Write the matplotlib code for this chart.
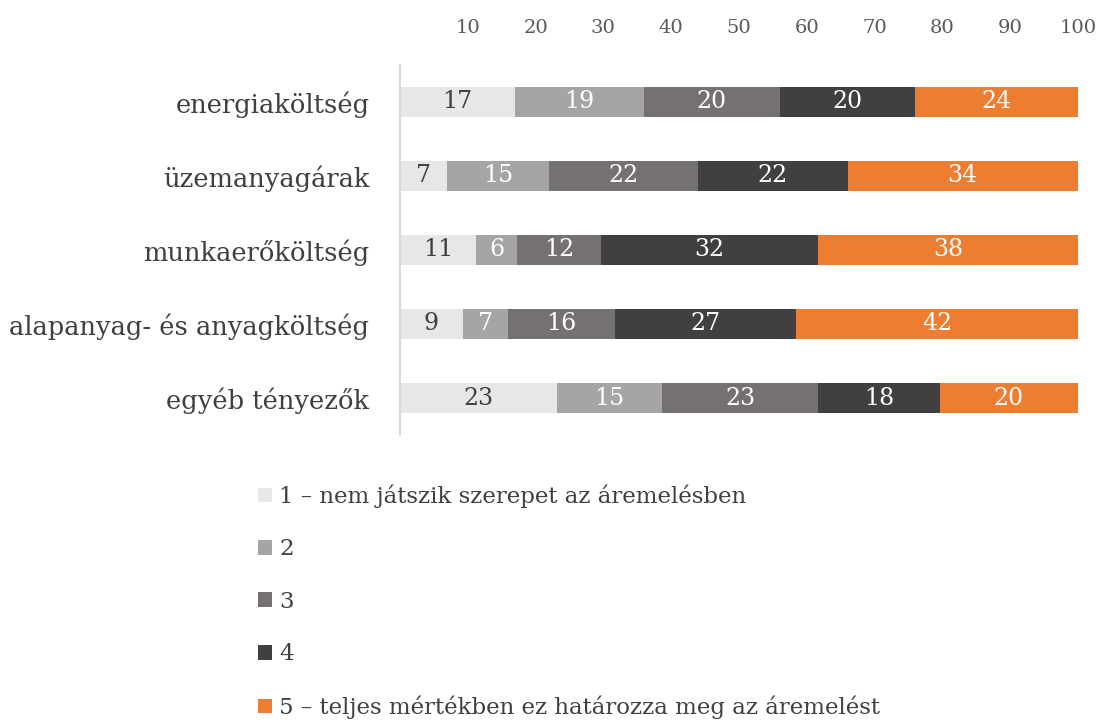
import matplotlib.pyplot as plt

# categories (top to bottom) and the five rating levels
categories = ['energiaköltség', 'üzemanyagárak', 'munkaerőköltség',
              'alapanyag- és anyagköltség', 'egyéb tényezők']
levels = ['1 – nem játszik szerepet az áremelésben', '2', '3', '4',
          '5 – teljes mértékben ez határozza meg az áremelést']
# shares in % (labels show them rounded)
s1 = [17, 7, 11.2, 9.3, 23.2]
s2 = [19, 15, 6.1, 6.6, 15.4]
s3 = [20, 22, 12.3, 15.8, 23.1]
s4 = [20, 22, 32.1, 26.7, 17.9]
s5 = [24, 34, 38.3, 41.6, 20.4]
ticks = [10, 20, 30, 40, 50, 60, 70, 80, 90, 100]

colors = ['#e7e7e7', '#a5a5a5', '#767171', '#404040', '#ed7d31']
text_colors = ['#404040', 'white', 'white', 'white', 'white']

plt.rcParams['font.family'] = ['DejaVu Serif']

fig = plt.figure(figsize=(11.05, 7.22), dpi=100)
ax = fig.add_axes([0.362, 0.3975, 0.6136, 0.5125])

series = [s1, s2, s3, s4, s5]
ypos = list(range(len(categories)))
left = [0] * len(categories)
for vals, col, tcol, lab in zip(series, colors, text_colors, levels):
    bars = ax.barh(ypos, vals, left=left, height=0.4, color=col, label=lab)
    for b, v in zip(bars, vals):
        ax.text(b.get_x() + b.get_width() / 2, b.get_y() + b.get_height() / 2,
                f'{v:.0f}', ha='center', va='center', color=tcol, fontsize=17)
    left = [l + v for l, v in zip(left, vals)]

ax.set_xlim(0, 100)
ax.set_ylim(4.5, -0.5)
ax.set_yticks(ypos)
ax.set_yticklabels(categories, fontsize=18.5, color='#404040')
ax.xaxis.tick_top()
ax.set_xticks(ticks)
ax.set_xticklabels([str(t) for t in ticks], fontsize=14, color='#595959')
ax.tick_params(axis='x', length=0, pad=20)
ax.tick_params(axis='y', length=0, pad=22)
for side in ['top', 'right', 'bottom']:
    ax.spines[side].set_visible(False)
ax.spines['left'].set_color('#d9d9d9')
ax.spines['left'].set_linewidth(1.5)

fig.legend(loc='upper left', bbox_to_anchor=(0.2235, 0.345), frameon=False,
           fontsize=16.5, labelcolor='#404040', handlelength=0.6, handleheight=0.6,
           handletextpad=0.3, labelspacing=1.33, borderpad=0)

fig.savefig('out.png', dpi=100)
